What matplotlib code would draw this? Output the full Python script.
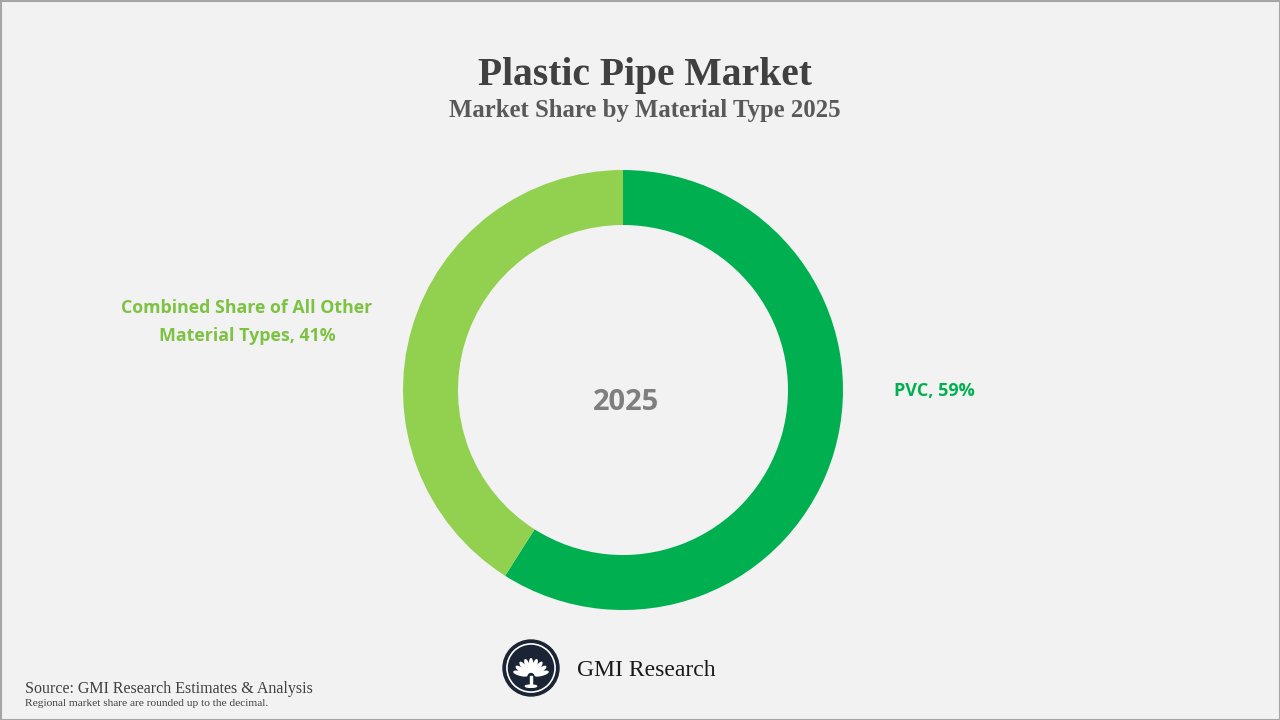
#!/usr/bin/env python3
"""Donut chart of plastic pipe market share by material type, 2025."""

import numpy as np
import matplotlib
matplotlib.use('Agg')
import matplotlib.pyplot as plt
from matplotlib.patches import Circle, Ellipse, Rectangle

labels = ['PVC', 'Combined Share of All Other\nMaterial Types']
shares = [59, 41]
colors = ['#00B050', '#92D050']
text_colors = ['#00B050', '#7DC242']
year = '2025'

W, H = 1280, 720


def y(py):
    """Convert pixel row (from top) to axes y."""
    return H - py


def draw_logo(ax, cx, cy, r):
    ax.add_patch(Circle((cx, cy), r, color='#1B2434', zorder=3))
    ax.add_patch(Circle((cx, cy), r * 0.86, fill=False, ec='white',
                        lw=1.2, zorder=4))
    # fan of leaves
    base = (cx, cy - r * 0.3)
    for ang in np.linspace(15, 165, 9):
        a = np.radians(ang)
        L = r * 0.6
        ex = base[0] + np.cos(a) * L * 0.65
        ey = base[1] + np.sin(a) * L * 0.65
        ax.add_patch(Ellipse((ex, ey), L * 0.8, r * 0.12, angle=ang,
                             color='white', zorder=5))
    ax.add_patch(Rectangle((cx - r * 0.05, cy - r * 0.65), r * 0.1,
                           r * 0.36, color='white', zorder=5))
    ax.add_patch(Ellipse((cx, cy - r * 0.65), r * 0.4, r * 0.08,
                         color='white', zorder=5))


def main():
    fig = plt.figure(figsize=(12.8, 7.2), dpi=100)
    fig.patch.set_facecolor('#F2F2F2')
    ax = fig.add_axes([0, 0, 1, 1])
    ax.set_xlim(0, W)
    ax.set_ylim(0, H)
    ax.set_aspect('equal')
    ax.axis('off')

    ax.pie(shares, colors=colors, startangle=90, counterclock=False,
           center=(623, y(390)), radius=220,
           wedgeprops=dict(width=55, edgecolor='none'))
    ax.set_xlim(0, W)
    ax.set_ylim(0, H)

    ax.text(626, y(402), year, ha='center', va='center', fontsize=21,
            fontweight='bold', color='#7F7F7F', family='Open Sans')

    ax.text(894, y(391), f'{labels[0]}, {shares[0]}%', ha='left',
            va='center', fontsize=13, fontweight='bold',
            color=text_colors[0], family='Open Sans')
    ax.text(247, y(322), f'{labels[1]}, {shares[1]}%', ha='center',
            va='center', fontsize=12.8, fontweight='bold',
            color=text_colors[1], family='Open Sans', linespacing=1.65)

    ax.text(645, y(75), 'Plastic Pipe Market', ha='center', va='center',
            fontsize=28.5, fontweight='bold', color='#404040',
            family='Liberation Serif')
    ax.text(645, y(111), 'Market Share by Material Type 2025', ha='center',
            va='center', fontsize=17.8, fontweight='bold', color='#595959',
            family='Liberation Serif')

    draw_logo(ax, 531, y(668), 28)
    ax.text(577, y(670), 'GMI Research', ha='left', va='center',
            fontsize=17, color='#1A1A1A', family='Liberation Serif')

    ax.text(25, y(689), 'Source: GMI Research Estimates & Analysis',
            ha='left', va='center', fontsize=11.5, color='#404040',
            family='Liberation Serif')
    ax.text(25, y(704), 'Regional market share are rounded up to the decimal.',
            ha='left', va='center', fontsize=8.2, color='#404040',
            family='Liberation Serif')

    ax.add_patch(Rectangle((0.5, 0.5), W - 1, H - 1, fill=False,
                           ec='#A6A6A6', lw=1.5, zorder=10))

    fig.savefig('out.png', dpi=100, facecolor=fig.get_facecolor())


if __name__ == '__main__':
    main()
